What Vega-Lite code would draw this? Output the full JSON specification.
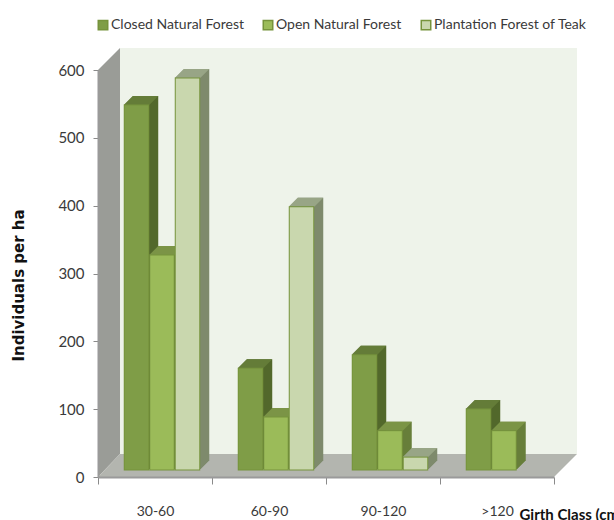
{"$schema":"https://vega.github.io/schema/vega-lite/v6.json","autosize":"none","width":456,"height":407,"padding":{"left":98,"top":70,"right":60,"bottom":43},"background":"white","config":{"view":{"stroke":null}},
"datasets":{"d":[
{"g":"30-60","s":"Closed Natural Forest","v":538},{"g":"30-60","s":"Open Natural Forest","v":317},{"g":"30-60","s":"Plantation Forest of Teak","v":578},
{"g":"60-90","s":"Closed Natural Forest","v":150},{"g":"60-90","s":"Open Natural Forest","v":78},{"g":"60-90","s":"Plantation Forest of Teak","v":388},
{"g":"90-120","s":"Closed Natural Forest","v":170},{"g":"90-120","s":"Open Natural Forest","v":58},{"g":"90-120","s":"Plantation Forest of Teak","v":19},
{"g":">120","s":"Closed Natural Forest","v":90},{"g":">120","s":"Open Natural Forest","v":58}]},
"layer":[
{"data":{"values":[{"part":"back wall"}]},"mark":{"type":"point","filled":true,"opacity":1,"size":4,"fill":"#EEF3EA","shape":"M-35,-23L422,-23L422,-429L-35,-429Z"},"encoding":{"x":{"datum":"30-60","type":"nominal"},"y":{"datum":0,"type":"quantitative"}}},
{"data":{"values":[{"part":"left wall"}]},"mark":{"type":"point","filled":true,"opacity":1,"size":4,"fill":"#9A9C97","shape":"M-57,0L-35,-23L-35,-429L-57,-407Z"},"encoding":{"x":{"datum":"30-60","type":"nominal"},"y":{"datum":0,"type":"quantitative"}}},
{"data":{"values":[{"part":"floor"}]},"mark":{"type":"point","filled":true,"opacity":1,"size":4,"fill":"#B3B5AF","shape":"M-57,0L-35,-23L422,-23L399,0Z"},"encoding":{"x":{"datum":"30-60","type":"nominal"},"y":{"datum":0,"type":"quantitative"}}},
{"data":{"name":"d"},
"resolve":{"scale":{"color":"independent","xOffset":"independent"}},
"encoding":{
"x":{"field":"g","type":"nominal","title":"Girth Class (cm)","sort":null,"scale":{"domain":["30-60","60-90","90-120",">120"],"paddingInner":0,"paddingOuter":0},"axis":{"zindex":1,"labelAngle":0,"labelAlign":"center","tickBand":"extent","domainColor":"#9a9a9a","domainWidth":2,"tickColor":"#8a8a8a","tickSize":7,"labelPadding":27,"labelFont":"Lato","labelFontSize":14,"labelColor":"#3a3a3a","titleFont":"Lato","titleFontSize":15,"titleFontWeight":"bold","titleColor":"#111111","titleAlign":"left","titleBaseline":"middle","titleX":421,"titleY":37}},
"y":{"field":"v","type":"quantitative","stack":null,"title":"Individuals per ha","scale":{"domain":[0,600],"nice":false},"axis":{"zindex":1,"values":[0,100,200,300,400,500,600],"grid":false,"domainColor":"#9a9a9a","domainWidth":2,"tickColor":"#8a8a8a","tickSize":5,"labelPadding":9,"labelFont":"Lato","labelFontSize":15,"labelColor":"#3a3a3a","titleFont":"DejaVu Sans","titleFontSize":15,"titleFontWeight":"bold","titleColor":"#111111","titleX":-72,"titleY":215,"titleAnchor":"middle"}},
"y2":{"datum":0}},
"layer":[
{"mark":{"type":"rule","strokeWidth":25.5,"strokeCap":"butt","yOffset":-8,"y2Offset":-8},"encoding":{"xOffset":{"field":"s","type":"nominal","sort":null,"scale":{"paddingInner":0,"paddingOuter":0.735,"align":0.7133}},"color":{"field":"s","type":"nominal","sort":null,"legend":null,"scale":{"range":["#52682B","#677E3A","#7E8A6C"]}}}},
{"mark":{"type":"rule","strokeWidth":25.5,"strokeCap":"butt","yOffset":-9,"y2Offset":-9},"encoding":{"xOffset":{"field":"s","type":"nominal","sort":null,"scale":{"paddingInner":0,"paddingOuter":0.735,"align":0.74}},"color":{"field":"s","type":"nominal","sort":null,"legend":null,"scale":{"range":["#52682B","#677E3A","#7E8A6C"]}}}},
{"mark":{"type":"rule","strokeWidth":25.5,"strokeCap":"butt","yOffset":-10,"y2Offset":-10},"encoding":{"xOffset":{"field":"s","type":"nominal","sort":null,"scale":{"paddingInner":0,"paddingOuter":0.735,"align":0.7667}},"color":{"field":"s","type":"nominal","sort":null,"legend":null,"scale":{"range":["#52682B","#677E3A","#7E8A6C"]}}}},
{"mark":{"type":"rule","strokeWidth":25.5,"strokeCap":"butt","yOffset":-11,"y2Offset":-11},"encoding":{"xOffset":{"field":"s","type":"nominal","sort":null,"scale":{"paddingInner":0,"paddingOuter":0.735,"align":0.7933}},"color":{"field":"s","type":"nominal","sort":null,"legend":null,"scale":{"range":["#52682B","#677E3A","#7E8A6C"]}}}},
{"mark":{"type":"rule","strokeWidth":25.5,"strokeCap":"butt","yOffset":-12,"y2Offset":-12},"encoding":{"xOffset":{"field":"s","type":"nominal","sort":null,"scale":{"paddingInner":0,"paddingOuter":0.735,"align":0.82}},"color":{"field":"s","type":"nominal","sort":null,"legend":null,"scale":{"range":["#52682B","#677E3A","#7E8A6C"]}}}},
{"mark":{"type":"rule","strokeWidth":25.5,"strokeCap":"butt","yOffset":-13,"y2Offset":-13},"encoding":{"xOffset":{"field":"s","type":"nominal","sort":null,"scale":{"paddingInner":0,"paddingOuter":0.735,"align":0.8467}},"color":{"field":"s","type":"nominal","sort":null,"legend":null,"scale":{"range":["#52682B","#677E3A","#7E8A6C"]}}}},
{"mark":{"type":"rule","strokeWidth":25.5,"strokeCap":"butt","yOffset":-14,"y2Offset":-14},"encoding":{"xOffset":{"field":"s","type":"nominal","sort":null,"scale":{"paddingInner":0,"paddingOuter":0.735,"align":0.8733}},"color":{"field":"s","type":"nominal","sort":null,"legend":null,"scale":{"range":["#52682B","#677E3A","#7E8A6C"]}}}},
{"mark":{"type":"rule","strokeWidth":25.5,"strokeCap":"butt","yOffset":-15,"y2Offset":-15},"encoding":{"xOffset":{"field":"s","type":"nominal","sort":null,"scale":{"paddingInner":0,"paddingOuter":0.735,"align":0.9}},"color":{"field":"s","type":"nominal","sort":null,"legend":null,"scale":{"range":["#52682B","#677E3A","#7E8A6C"]}}}},
{"mark":{"type":"rule","strokeWidth":25.5,"strokeCap":"butt","yOffset":-16,"y2Offset":-16},"encoding":{"xOffset":{"field":"s","type":"nominal","sort":null,"scale":{"paddingInner":0,"paddingOuter":0.735,"align":0.9267}},"color":{"field":"s","type":"nominal","sort":null,"legend":null,"scale":{"range":["#52682B","#677E3A","#7E8A6C"]}}}},
{"mark":{"type":"point","filled":true,"opacity":1,"size":4,"yOffset":-7,"shape":"M-12.75,0L12.75,0L21.75,-9L-3.75,-9Z"},"encoding":{"xOffset":{"field":"s","type":"nominal","sort":null,"scale":{"type":"band","paddingInner":0,"paddingOuter":0.735,"align":0.6867}},"color":{"field":"s","type":"nominal","sort":null,"legend":null,"scale":{"range":["#647C38","#7B9446","#98A586"]}}}},
{"mark":{"type":"point","filled":true,"opacity":1,"size":4,"yOffset":-7,"shape":"M-6,2L6,2L6,8L-6,8Z"},"encoding":{"xOffset":{"field":"s","type":"nominal","sort":null,"scale":{"type":"band","paddingInner":0,"paddingOuter":0.735,"align":0.6867}},"color":{"field":"s","type":"nominal","sort":null,"title":null,"scale":{"domain":["Closed Natural Forest","Open Natural Forest","Plantation Forest of Teak"],"range":["#7F9D47","#9BBB59","#C9D7AE"]},"legend":{"orient":"none","legendX":-2,"legendY":-52,"direction":"horizontal","columns":3,"columnPadding":16,"symbolType":"square","symbolSize":90,"symbolStrokeColor":"#76933C","symbolStrokeWidth":1.5,"symbolOpacity":1,"labelFont":"Lato","labelFontSize":14,"labelColor":"#3a3a3a","labelOffset":1,"labelLimit":300}}}},
{"mark":{"type":"rule","strokeWidth":25.5,"strokeCap":"butt","stroke":"#76933C","yOffset":-7.5,"y2Offset":-6.5},"encoding":{"xOffset":{"field":"s","type":"nominal","sort":null,"scale":{"paddingInner":0,"paddingOuter":0.735,"align":0.6867}}}},
{"mark":{"type":"rule","strokeWidth":23.5,"strokeCap":"butt","yOffset":-6.5,"y2Offset":-7.5},"encoding":{"xOffset":{"field":"s","type":"nominal","sort":null,"scale":{"paddingInner":0,"paddingOuter":0.735,"align":0.6867}},"color":{"field":"s","type":"nominal","sort":null,"legend":null,"scale":{"range":["#7F9D47","#9BBB59","#C9D7AE"]}}}}
]}
]}
